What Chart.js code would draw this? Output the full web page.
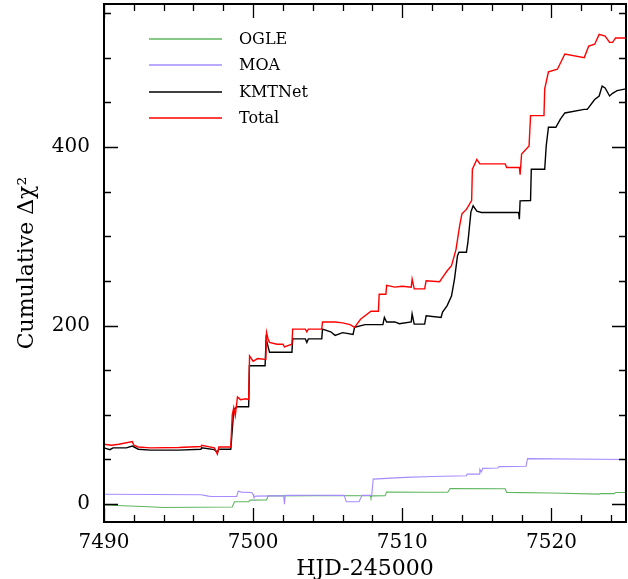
<!DOCTYPE html>
<html>
<head>
<meta charset="utf-8">
<script src="https://cdn.jsdelivr.net/npm/chart.js@4.4.1/dist/chart.umd.min.js"></script>
<style>
html,body{margin:0;padding:0;background:#fff;}
#wrap{width:628px;height:579px;position:relative;}
</style>
</head>
<body>
<div id="wrap"><canvas id="c" width="628" height="579"></canvas></div>
<script>
// ---- Data ----
const seriesNames = ["OGLE", "MOA", "KMTNet", "Total"];

const ogleX = [7490, 7493.0, 7494, 7496, 7498.6, 7498.75, 7499.7, 7499.8, 7500.9, 7501.0, 7504, 7507.85, 7507.9, 7507.95, 7508.85, 7508.95, 7511.5, 7513.05, 7513.2, 7516.9, 7517.0, 7520, 7523.2, 7523.3, 7524.2, 7524.3, 7525];
const ogleY = [-1, -3, -3.7, -3.5, -3.2, 2.6, 2.8, 4.5, 4.7, 9.3, 9.5, 9.4, 7.0, 9.3, 9.4, 13.5, 13.3, 13.3, 17.5, 17.2, 13.2, 12.5, 11.2, 11.8, 11.8, 13, 13];

const moaX = [7490, 7496.5, 7497.0, 7497.2, 7498.9, 7499.0, 7499.2, 7499.9, 7500.0, 7500.05, 7500.2, 7501.5, 7502.05, 7502.1, 7502.15, 7504, 7506.1, 7506.25, 7507.1, 7507.3, 7507.95, 7508.05, 7510.2, 7512, 7514.3, 7514.35, 7515.15, 7515.2, 7515.3, 7515.4, 7516.4, 7516.5, 7518.3, 7518.4, 7525];
const moaY = [11, 10.5, 9, 8.5, 8.7, 14.5, 13.5, 13, 11, 7.8, 9, 9.3, 9.3, 0, 9.8, 10, 9.8, 2.6, 2.6, 9.8, 9.8, 28, 30, 31, 31.7, 33.6, 33.6, 39, 36, 40, 40.5, 42, 42.5, 51, 50];

const kmtX = [7490, 7490.4, 7490.6, 7491.5, 7491.9, 7492.3, 7493.1, 7495, 7496.5, 7496.55, 7497.4, 7497.6, 7497.7, 7498.5, 7498.7, 7498.9, 7499.0, 7499.7, 7499.75, 7500.8, 7500.87, 7501.1, 7501.2, 7502.0, 7502.6, 7502.65, 7503.5, 7503.6, 7503.7, 7504.6, 7504.65, 7505.2, 7505.5, 7506.0, 7506.7, 7506.8, 7507.5, 7508.7, 7508.8, 7508.95, 7509.5, 7509.8, 7510.6, 7510.66, 7510.8, 7511.5, 7511.6, 7512.6, 7512.7, 7513.0, 7513.3, 7513.5, 7513.7, 7513.8, 7514.3, 7514.4, 7514.6, 7514.75, 7515.0, 7515.3, 7516.0, 7517.8, 7517.85, 7517.9, 7518.6, 7518.65, 7519.55, 7519.65, 7519.8, 7520.3, 7520.6, 7520.9, 7522.2, 7522.4, 7522.9, 7523.2, 7523.4, 7523.6, 7523.9, 7524.1, 7524.4, 7525];
const kmtY = [63, 61, 63, 63, 65, 61.5, 60.5, 60.5, 61.5, 63, 61, 58, 61.5, 61.5, 105, 109, 109, 109, 155, 155, 185, 170, 170, 170, 170, 185, 185, 181, 185, 185, 196, 193, 189, 192, 190, 198, 201, 201, 209, 204, 204, 202, 204, 213, 201.6, 201.6, 211, 209, 215, 222, 233, 252, 278, 282, 282, 293, 327, 334, 328, 326.6, 326.6, 326.6, 319, 339.6, 340, 375, 375, 401, 422, 422, 431, 438, 442, 442, 453, 457, 468, 466, 457, 460, 463, 465];

const totalX = [7490, 7490.5, 7491.0, 7491.9, 7492.0, 7492.3, 7493.1, 7495.0, 7496.5, 7496.55, 7497.4, 7497.6, 7497.7, 7498.5, 7498.6, 7498.7, 7498.8, 7498.95, 7499.15, 7499.5, 7499.7, 7499.76, 7500.0, 7500.3, 7500.85, 7500.9, 7501.0, 7501.1, 7501.6, 7502.0, 7502.1, 7502.6, 7502.65, 7503.5, 7503.6, 7503.7, 7504.6, 7504.65, 7505.5, 7506.0, 7506.5, 7506.8, 7507.2, 7507.9, 7508.4, 7508.45, 7508.9, 7508.95, 7509.5, 7510.0, 7510.6, 7510.66, 7510.8, 7511.5, 7511.6, 7512.5, 7512.7, 7513.0, 7513.3, 7513.6, 7513.85, 7514.0, 7514.3, 7514.65, 7514.7, 7515.0, 7515.2, 7516.9, 7517.0, 7517.85, 7517.9, 7518.0, 7518.5, 7518.6, 7519.5, 7519.55, 7519.8, 7520.4, 7520.9, 7522.2, 7522.5, 7522.9, 7523.2, 7523.6, 7523.9, 7524.1, 7524.3, 7525];
const totalY = [67, 66, 67, 70, 66, 64, 63, 63.5, 64.5, 66, 63, 56, 64, 64, 100, 108, 99, 120, 117, 118, 117, 166, 160, 163, 162, 192, 185, 181, 179, 179, 176, 179, 196, 196, 193, 196, 196, 204, 204, 203, 201, 198, 207, 216, 216, 235, 235, 245, 243, 244, 243, 252, 241, 241, 250, 249, 254, 261, 267, 285, 312, 325, 330, 340, 375, 386, 381, 381, 377, 377, 369, 392, 401, 435, 435, 465, 484, 487, 504, 500, 513, 515, 526, 524, 517, 517, 522, 522];

const xTickLabels = [7490, 7500, 7510, 7520];
const yTickLabels = [0, 200, 400];
const xMinorStep = 2;
const yMinorStep = 50;

// ---- Chart ----
const FONT = "'DejaVu Serif', serif";
const colors = ['#5fb65f', '#a58bff', '#000000', '#ff0000'];
const widths = [1.1, 1.1, 1.4, 1.4];
const seriesX = [ogleX, moaX, kmtX, totalX];
const seriesY = [ogleY, moaY, kmtY, totalY];
const pts = (xs, ys) => xs.map((x, i) => ({x: x, y: ys[i]}));

const framePlugin = {
  id: 'frame',
  afterDatasetsDraw(chart) {
    const {ctx, chartArea: a, scales} = chart;
    const xs = scales.x, ys = scales.y;
    ctx.save();
    ctx.strokeStyle = '#000';
    ctx.lineWidth = 1.3;
    ctx.beginPath();
    for (let v = xs.min; v <= xs.max + 1e-9; v += xMinorStep) {
      const px = Math.round(xs.getPixelForValue(v)) + 0.5;
      const len = xTickLabels.includes(v) ? 14 : 7;
      ctx.moveTo(px, a.bottom); ctx.lineTo(px, a.bottom - len);
      ctx.moveTo(px, a.top); ctx.lineTo(px, a.top + len);
    }
    for (let v = 0; v <= ys.max + 1e-9; v += yMinorStep) {
      const py = Math.round(ys.getPixelForValue(v)) + 0.5;
      const len = yTickLabels.includes(v) ? 14 : 7;
      ctx.moveTo(a.left, py); ctx.lineTo(a.left + len, py);
      ctx.moveTo(a.right, py); ctx.lineTo(a.right - len, py);
    }
    ctx.stroke();
    ctx.lineWidth = 2;
    ctx.strokeRect(a.left, a.top, a.right - a.left, a.bottom - a.top);
    ctx.restore();
  }
};

const legendPlugin = {
  id: 'insideLegend',
  afterDatasetsDraw(chart) {
    const {ctx} = chart;
    const x0 = 149, x1 = 222, tx = 239, y0 = 39, dy = 26.3;
    ctx.save();
    ctx.font = "16px " + FONT;
    ctx.textBaseline = 'middle';
    ctx.textAlign = 'left';
    seriesNames.forEach((name, i) => {
      const y = Math.round(y0 + i * dy);
      ctx.strokeStyle = colors[i];
      ctx.lineWidth = 1.5;
      ctx.beginPath(); ctx.moveTo(x0, y); ctx.lineTo(x1, y); ctx.stroke();
      ctx.fillStyle = '#000';
      ctx.fillText(name, tx, y + 1);
    });
    ctx.restore();
  }
};

new Chart(document.getElementById('c'), {
  type: 'scatter',
  data: {
    datasets: seriesNames.map((name, i) => ({
      label: name,
      data: pts(seriesX[i], seriesY[i]),
      showLine: true,
      borderColor: colors[i],
      backgroundColor: colors[i],
      borderWidth: widths[i],
      pointRadius: 0,
      tension: 0,
      order: 3 - i
    }))
  },
  options: {
    responsive: false,
    animation: false,
    devicePixelRatio: 1,
    layout: {padding: {top: 4, right: 2, left: 0, bottom: 0}},
    plugins: {legend: {display: false}, tooltip: {enabled: false}},
    scales: {
      x: {
        type: 'linear', min: 7490, max: 7525, position: 'bottom',
        grid: {display: false, drawTicks: false},
        border: {display: false},
        afterBuildTicks: s => { s.ticks = xTickLabels.map(v => ({value: v})); },
        afterFit: s => { s.height = 57; },
        ticks: {color: '#000', font: {family: FONT, size: 20}, padding: 9, maxRotation: 0, callback: v => String(v)},
        title: {display: true, text: 'HJD-245000', color: '#000', font: {family: FONT, size: 22, lineHeight: 0.85}, padding: {top: 0, bottom: 0}}
      },
      y: {
        type: 'linear', min: -20, max: 560,
        grid: {display: false, drawTicks: false},
        border: {display: false},
        afterBuildTicks: s => { s.ticks = yTickLabels.map(v => ({value: v})); },
        afterFit: s => { s.width = 104; s.paddingTop = 0; s.paddingBottom = 0; },
        ticks: {color: '#000', font: {family: FONT, size: 20}, padding: 14, callback: v => String(v)},
        title: {display: true, text: 'Cumulative Δχ²', color: '#000', font: {family: FONT, size: 22, lineHeight: 1.0}, padding: {top: 16, bottom: 0}}
      }
    }
  },
  plugins: [framePlugin, legendPlugin]
});
</script>
</body>
</html>
